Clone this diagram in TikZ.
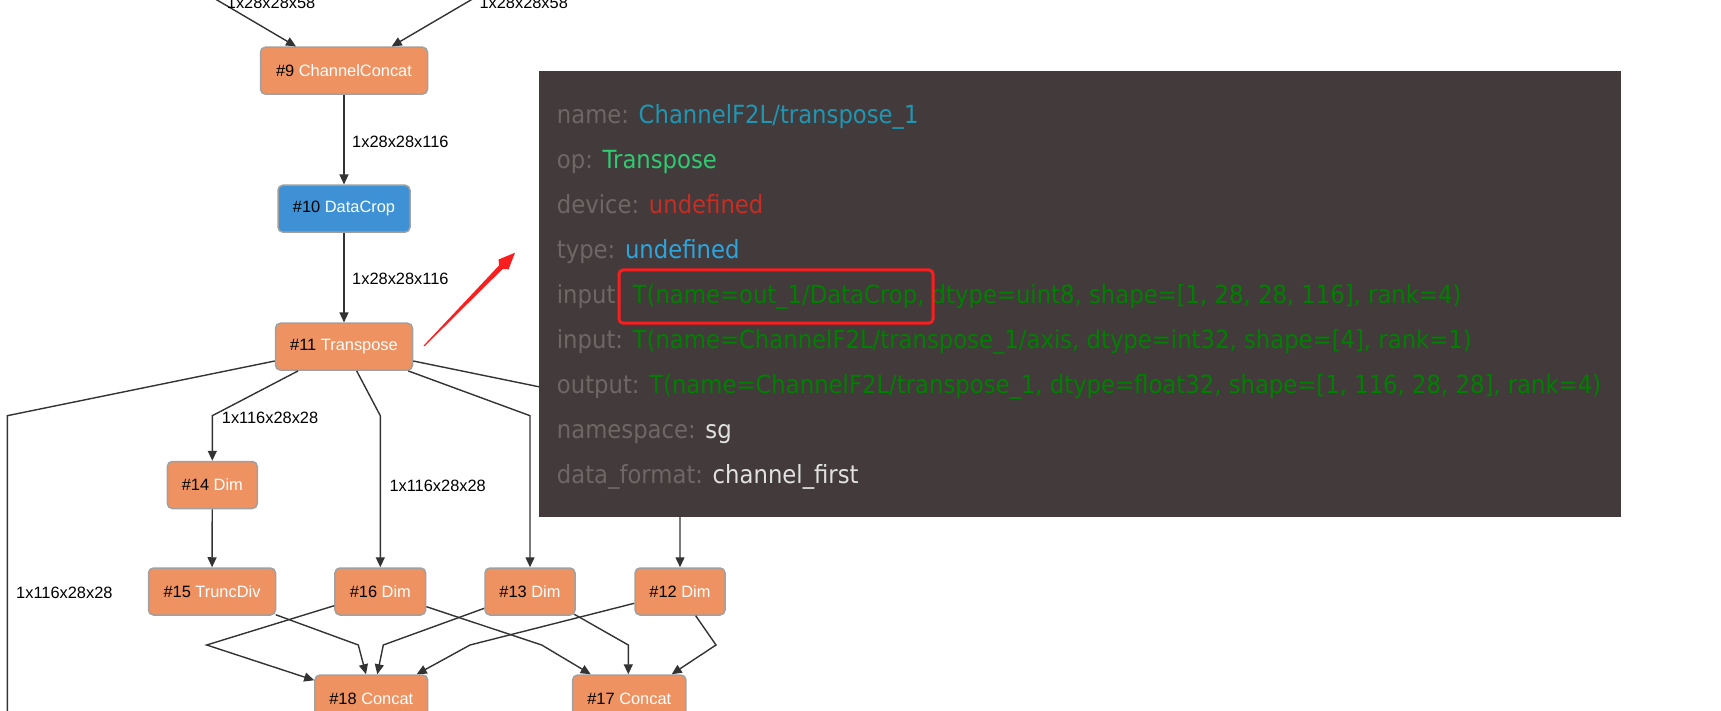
\documentclass[tikz,border=0pt]{standalone}
\usepackage{fontspec}
\setmainfont{Liberation Sans}
\newfontfamily\panelfont{DejaVu Sans}[FakeStretch=0.91]
\usetikzlibrary{arrows.meta,calc}
\definecolor{nodeorange}{RGB}{238,146,98}
\definecolor{nodeblue}{RGB}{61,145,212}
\definecolor{nodeborder}{RGB}{160,160,160}
\definecolor{edgecol}{RGB}{51,51,51}
\definecolor{panelbg}{RGB}{66,58,59}
\definecolor{keycol}{RGB}{112,102,102}
\definecolor{namecol}{RGB}{32,150,178}
\definecolor{opcol}{RGB}{46,204,113}
\definecolor{devcol}{RGB}{200,45,35}
\definecolor{typecol}{RGB}{45,165,222}
\definecolor{tcol}{RGB}{0,128,0}
\definecolor{plaincol}{RGB}{225,225,225}
\definecolor{annot}{RGB}{250,30,30}
\newcommand{\nodefont}{\fontsize{16.4}{19}\selectfont}
\newcommand{\pfont}{\panelfont\fontsize{25}{30}\selectfont}
\begin{document}
\begin{tikzpicture}[x=1pt,y=-1pt,
  opnode/.style={draw=nodeborder, line width=1.5pt, rounded corners=5pt, fill=nodeorange,
    minimum height=47pt, inner sep=0pt, text=white, font=\nodefont},
  cropnode/.style={opnode, fill=nodeblue},
  edge/.style={draw=edgecol, line width=1.4pt},
  arr/.style={edge, -{Triangle[length=10pt,width=9pt]}},
  lbl/.style={font=\nodefont, text=black, inner sep=0pt, anchor=west},
  pline/.style={font=\pfont, inner sep=0pt, anchor=base west}]
\useasboundingbox (0,0) rectangle (1721,711);
\clip (0,0) rectangle (1721,711);
\fill[white] (0,0) rectangle (1721,711);

% nodes
\node[opnode, minimum width=167pt] (n9) at (344,70.7) {{\color{black}\#9} ChannelConcat};
\node[cropnode, minimum width=132pt] (n10) at (344,208.7) {{\color{black}\#10} DataCrop};
\node[opnode, minimum width=137pt] (n11) at (344,346.7) {{\color{black}\#11} Transpose};
\node[opnode, minimum width=90pt] (n14) at (212.3,485) {{\color{black}\#14} Dim};
\node[opnode, minimum width=127pt] (n15) at (212,591.5) {{\color{black}\#15} TruncDiv};
\node[opnode, minimum width=90.7pt] (n16) at (380.3,591.5) {{\color{black}\#16} Dim};
\node[opnode, minimum width=90pt] (n13) at (530,591.5) {{\color{black}\#13} Dim};
\node[opnode, minimum width=90pt] (n12) at (680,591.5) {{\color{black}\#12} Dim};
\node[opnode, minimum width=112.7pt] (n18) at (371.3,698.5) {{\color{black}\#18} Concat};
\node[opnode, minimum width=113.3pt] (n17) at (629.3,698.5) {{\color{black}\#17} Concat};

% incoming edges from above
\coordinate (inL) at (166,-30);
\coordinate (inR) at (522,-30);
\draw[arr] (inL) -- ([xshift=-48pt]n9.north);
\draw[arr] (inR) -- ([xshift=47.7pt]n9.north);
\node[lbl, anchor=base west] (l58a) at (226.7,8.3) {1x28x28x58};
\node[lbl, anchor=base west] (l58b) at (479.3,8.3) {1x28x28x58};

% main chain
\draw[arr] (n9) -- (n10);
\node[lbl] (l116a) at (352,141.7) {1x28x28x116};
\draw[arr] (n10) -- (n11);
\node[lbl] (l116b) at (352,279) {1x28x28x116};

% fan-out of #11
\coordinate (offbottom) at (7.3,760);
\draw[edge] ([yshift=-14.3pt]n11.west) -- (7.3,415.7) -- (offbottom);
\node[lbl] (lfar) at (16,593.3) {1x116x28x28};
\draw[arr] ([xshift=-46pt]n11.south) -- (212.3,415.7) -- (n14.north);
\node[lbl] (l14) at (221.7,417.7) {1x116x28x28};
\draw[arr] ([xshift=12.7pt]n11.south) -- (380.3,415.7) -- (n16.north);
\node[lbl] (l16) at (389.3,485.7) {1x116x28x28};
\draw[arr] ([xshift=64.3pt]n11.south) -- (530,415.7) -- (n13.north);
\draw[arr] ([yshift=-14.3pt]n11.east) -- (680,415.7) -- (n12.north);
\draw[arr] (n14) -- (n15);

% lower crossing edges
\draw[arr] ([xshift=-0.5pt,yshift=1pt]n15.south east) -- (358.3,645) -- ([xshift=-5.3pt]n18.north);
\draw[arr] ([yshift=-14.2pt]n16.west) -- (206.7,645) -- ([yshift=-6pt]n18.north west);
\draw[arr] ([yshift=-16.8pt]n13.west) -- (383.3,645) -- ([xshift=6pt]n18.north);
\draw[arr] ([yshift=-11.8pt]n12.west) -- (470,645) -- ([xshift=45.4pt]n18.north);
\draw[arr] ([yshift=-15.2pt]n16.east) -- (541.7,645) -- ([xshift=-38.6pt]n17.north);
\draw[arr] ([xshift=-1.5pt,yshift=1.5pt]n13.south east) -- (628.3,645) -- ([xshift=-1pt]n17.north);
\draw[arr] ([xshift=15.7pt]n12.south) -- (716,645) -- ([xshift=42.4pt]n17.north);

% info panel
\fill[panelbg] (539,71) rectangle (1621,516.7);
\node[pline] (p1) at (556.7,123.3) {\textcolor{keycol}{name:} \textcolor{namecol}{ChannelF2L/transpose\_1}};
\node[pline] (p2) at (556.7,168.3) {\textcolor{keycol}{op:} \textcolor{opcol}{Transpose}};
\node[pline] (p3) at (556.7,213.3) {\textcolor{keycol}{device:} \textcolor{devcol}{undefined}};
\node[pline] (p4) at (556.7,258.3) {\textcolor{keycol}{type:} \textcolor{typecol}{undefined}};
\node[pline] (p5) at (556.7,303.3) {\textcolor{keycol}{input:} \textcolor{tcol}{T(name=out\_1/DataCrop, dtype=uint8, shape=[1, 28, 28, 116], rank=4)}};
\node[pline] (p6) at (556.7,348.3) {\textcolor{keycol}{input:} \textcolor{tcol}{T(name=ChannelF2L/transpose\_1/axis, dtype=int32, shape=[4], rank=1)}};
\node[pline] (p7) at (556.7,393.3) {\textcolor{keycol}{output:} \textcolor{tcol}{T(name=ChannelF2L/transpose\_1, dtype=float32, shape=[1, 116, 28, 28], rank=4)}};
\node[pline] (p8) at (556.7,438.3) {\textcolor{keycol}{namespace:} \textcolor{plaincol}{sg}};
\node[pline] (p9) at (556.7,483.3) {\textcolor{keycol}{data\_format:} \textcolor{plaincol}{channel\_first}};

% red highlight box
\draw[annot, line width=3pt, rounded corners=4pt] (619,270) rectangle (933,323);

% red annotation arrow
\fill[annot] (424.4,346.4) -- (502.6,269.0) -- (508.6,269.3) -- (515,252.7)
  -- (498.6,259.5) -- (499.0,265.5) -- (423.6,345.6) -- cycle;
\end{tikzpicture}
\end{document}
